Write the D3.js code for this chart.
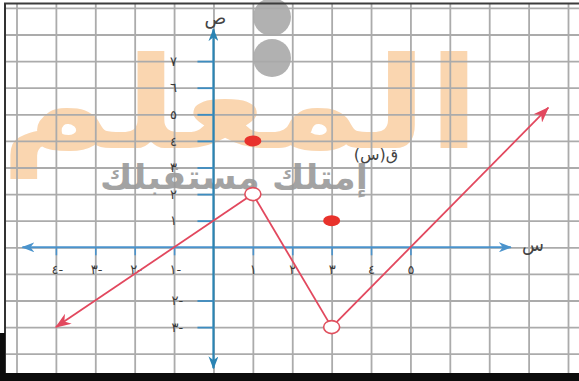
<!DOCTYPE html>
<html>
<head>
<meta charset="utf-8">
<script src="https://cdn.jsdelivr.net/npm/d3@7"></script>
<style>
  html, body { margin: 0; padding: 0; background: #fff; }
  svg { display: block; }
  text { font-family: "DejaVu Sans", sans-serif; }
</style>
</head>
<body>
<svg id="chart" width="579" height="381"></svg>
<script>
// Piecewise function ق(س) on a coordinate grid
const gridXValues = d3.range(-5, 10);
const gridYValues = d3.range(-4, 10);
const xTicks = [-4, -3, -2, -1, 1, 2, 3, 4, 5];
const yTicks = [7, 6, 5, 4, 3, 2, 1, -2, -3];

// ray y = x + 1 ending at an open point (1, 2)
const leftRay = [{ x: 1, y: 2 }, { x: -4, y: -3 }];
// segment between the two open points
const middleSegment = [{ x: 1, y: 2 }, { x: 3, y: -3 }];
// ray from (3, -3) through (5, 0)
const rightRay = [{ x: 3, y: -3 }, { x: 8.5, y: 5.25 }];
const openPoints = [{ x: 1, y: 2 }, { x: 3, y: -3 }];
const solidPoints = [{ x: 1, y: 4 }, { x: 3, y: 1 }];

const xAxisExtent = [-4.85, 7.55];
const yAxisExtent = [-4.55, 8.2];

const funcLabel = "ق(س)";
const xName = "س";
const yName = "ص";
const brandText = "المعلم";
const sloganText = "إمتلك مستقبلك";

const W = 579, H = 381;
const frameTop = 3.5, frameLeft = 5, frameBottom = 373;

const svg = d3.select("#chart");
const x = d3.scaleLinear().domain([-5, 9]).range([16.5, 568]);
const y = d3.scaleLinear().domain([-4, 9]).range([353.7, 7.9]);

const arabicDigits = "٠١٢٣٤٥٦٧٨٩";
const toArabic = n => String(Math.abs(n)).replace(/\d/g, d => arabicDigits[+d]) + (n < 0 ? "-" : "");

svg.append("rect").attr("width", W).attr("height", H).attr("fill", "#fff");

// arrow markers
const defs = svg.append("defs");
function marker(id, color, len, wid) {
  defs.append("marker")
    .attr("id", id)
    .attr("viewBox", `0 ${-wid / 2} ${len} ${wid}`)
    .attr("refX", len - 1).attr("refY", 0)
    .attr("markerUnits", "userSpaceOnUse")
    .attr("markerWidth", len).attr("markerHeight", wid)
    .attr("orient", "auto-start-reverse")
    .append("path")
    .attr("d", `M0,${-wid / 2} L${len},0 L0,${wid / 2} L${len * 0.3},0 Z`)
    .attr("fill", color);
}
marker("arrowRed", "#e2485e", 16, 12);
marker("arrowBlueX", "#4a93cc", 13, 10);
marker("arrowBlueY", "#2a84b4", 13, 10);

// background brand lettering
const brand = svg.append("text")
  .text(brandText)
  .attr("font-size", 128)
  .attr("font-weight", "bold")
  .attr("fill", "#f7bb7c")
  .attr("opacity", 0.6)
  .attr("x", 0).attr("y", 148);
{
  const bb = brand.node().getBBox();
  const sx = 480 / bb.width;
  brand.attr("transform", `translate(${-bb.x * sx},0) scale(${sx},1)`);
}

// grid
const gridColor = "#ababab";
svg.append("g")
  .attr("transform", `translate(0,${frameBottom})`)
  .call(d3.axisBottom(x).tickValues(gridXValues).tickSize(-(frameBottom - frameTop)).tickFormat(""))
  .call(g => g.select(".domain").remove())
  .call(g => g.selectAll("line").attr("stroke", gridColor).attr("stroke-width", 1.8));
svg.append("g")
  .attr("transform", `translate(${frameLeft},0)`)
  .call(d3.axisLeft(y).tickValues(gridYValues).tickSize(-(W - frameLeft)).tickFormat(""))
  .call(g => g.select(".domain").remove())
  .call(g => g.selectAll("line").attr("stroke", gridColor).attr("stroke-width", 1.8));

// slogan lettering and dots
const slogan = svg.append("text")
  .text(sloganText)
  .attr("font-size", 34)
  .attr("font-weight", "bold")
  .attr("fill", "#9a9a9a")
  .attr("opacity", 0.9)
  .attr("x", 0).attr("y", 189);
{
  const bb = slogan.node().getBBox();
  const sx = 268 / bb.width;
  slogan.attr("transform", `translate(${100 - bb.x * sx},0) scale(${sx},1)`);
}
svg.append("g").selectAll("circle")
  .data([17, 58])
  .join("circle")
  .attr("cx", 272).attr("cy", d => d).attr("r", 19)
  .attr("fill", "#a9a9a9").attr("opacity", 0.9);

// axis lines with arrows at both ends
svg.append("line")
  .attr("x1", x(xAxisExtent[0])).attr("x2", x(xAxisExtent[1]))
  .attr("y1", y(0)).attr("y2", y(0))
  .attr("stroke", "#4a93cc").attr("stroke-width", 2)
  .attr("marker-start", "url(#arrowBlueX)").attr("marker-end", "url(#arrowBlueX)");
svg.append("line")
  .attr("x1", x(0)).attr("x2", x(0))
  .attr("y1", y(yAxisExtent[1])).attr("y2", y(yAxisExtent[0]))
  .attr("stroke", "#2a84b4").attr("stroke-width", 2.2)
  .attr("marker-start", "url(#arrowBlueY)").attr("marker-end", "url(#arrowBlueY)");

// x ticks and labels
svg.append("g")
  .attr("transform", `translate(0,${y(0)})`)
  .call(d3.axisBottom(x).tickValues(xTicks).tickSize(8).tickPadding(9).tickFormat(toArabic))
  .call(g => g.select(".domain").remove())
  .call(g => g.selectAll("line").attr("stroke", "#4a93cc").attr("stroke-width", 1.6))
  .call(g => g.selectAll("text")
    .attr("font-size", 13).attr("fill", "#3a3a3a")
    .attr("text-anchor", d => d < 0 ? "start" : "middle")
    .attr("x", d => d < 0 ? -5 : 0));

// y ticks and labels
svg.append("g")
  .attr("transform", `translate(${x(0)},0)`)
  .call(d3.axisLeft(y).tickValues(yTicks).tickSize(16).tickPadding(4).tickFormat(toArabic))
  .call(g => g.select(".domain").remove())
  .call(g => g.selectAll("line").attr("stroke", "#3d8cc0").attr("stroke-width", 1.8))
  .call(g => g.selectAll("text")
    .attr("font-size", 13).attr("fill", "#3a3a3a")
    .attr("text-anchor", "middle")
    .attr("x", d => d < 0 ? -36 : -40));

// axis names
svg.append("text").text(yName)
  .attr("x", x(0) + 2).attr("y", 24)
  .attr("font-size", 18).attr("fill", "#444").attr("text-anchor", "middle");
svg.append("text").text(xName)
  .attr("x", 533).attr("y", 251)
  .attr("font-size", 18).attr("fill", "#444").attr("text-anchor", "middle");

// function graph
const line = d3.line().x(d => x(d.x)).y(d => y(d.y));
const red = "#e2485e";
svg.append("path").datum(leftRay).attr("d", line)
  .attr("fill", "none").attr("stroke", red).attr("stroke-width", 1.8)
  .attr("marker-end", "url(#arrowRed)");
svg.append("path").datum(middleSegment).attr("d", line)
  .attr("fill", "none").attr("stroke", red).attr("stroke-width", 1.8);
svg.append("path").datum(rightRay).attr("d", line)
  .attr("fill", "none").attr("stroke", red).attr("stroke-width", 1.8)
  .attr("marker-end", "url(#arrowRed)");

svg.append("g").selectAll("ellipse")
  .data(openPoints)
  .join("ellipse")
  .attr("cx", d => x(d.x)).attr("cy", d => y(d.y))
  .attr("rx", 8).attr("ry", 6.5)
  .attr("fill", "#fff").attr("stroke", "#e0505e").attr("stroke-width", 1.6);
svg.append("g").selectAll("ellipse")
  .data(solidPoints)
  .join("ellipse")
  .attr("cx", d => x(d.x)).attr("cy", d => y(d.y))
  .attr("rx", 8.5).attr("ry", 5.5)
  .attr("fill", "#e8322c");

// function name, laid out right-to-left
svg.append("text").text(funcLabel)
  .attr("x", 376).attr("y", 160)
  .style("direction", "rtl")
  .style("unicode-bidi", "embed")
  .attr("text-anchor", "middle")
  .attr("font-size", 16).attr("fill", "#444");

// frame
svg.append("line").attr("x1", frameLeft - 1).attr("x2", W).attr("y1", frameTop).attr("y2", frameTop)
  .attr("stroke", "#3c3c3c").attr("stroke-width", 2.2);
svg.append("line").attr("x1", frameLeft).attr("x2", frameLeft).attr("y1", frameTop).attr("y2", frameBottom)
  .attr("stroke", "#333").attr("stroke-width", 2);
svg.append("rect").attr("x", 0).attr("y", frameBottom).attr("width", W).attr("height", H - frameBottom)
  .attr("fill", "#0c0c0c");
svg.append("rect").attr("x", 0).attr("y", 333).attr("width", frameLeft).attr("height", H - 333)
  .attr("fill", "#0c0c0c");
</script>
</body>
</html>
